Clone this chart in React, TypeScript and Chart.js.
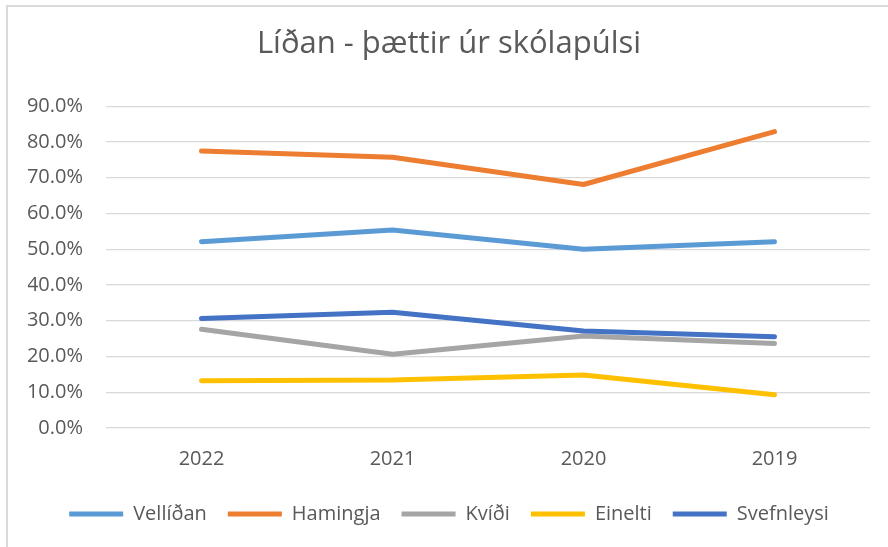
import React, { useEffect, useRef } from "react";
import { Chart, registerables } from "chart.js";

Chart.register(...registerables);

const titleText = "Líðan - þættir úr skólapúlsi";
const categories = ["2022", "2021", "2020", "2019"];
const seriesNames = ["Vellíðan", "Hamingja", "Kvíði", "Einelti", "Svefnleysi"];
const vellidan = [0.521, 0.554, 0.5, 0.521];
const hamingja = [0.775, 0.757, 0.681, 0.829];
const kvidi = [0.276, 0.206, 0.257, 0.236];
const einelti = [0.132, 0.134, 0.148, 0.093];
const svefnleysi = [0.306, 0.324, 0.271, 0.255];
const seriesColors = ["#5B9BD5", "#ED7D31", "#A5A5A5", "#FFC000", "#4472C4"];
const yMin = 0;
const yMax = 0.9;
const yStep = 0.1;

const FONT = "'Open Sans', sans-serif";
const TEXT = "#595959";

export default function App() {
  const ref = useRef<HTMLCanvasElement | null>(null);

  useEffect(() => {
    if (!ref.current) return;
    const values = [vellidan, hamingja, kvidi, einelti, svefnleysi];
    const chart = new Chart(ref.current, {
      type: "line",
      data: {
        labels: categories,
        datasets: seriesNames.map((name, i) => ({
          label: name,
          data: values[i],
          borderColor: seriesColors[i],
          backgroundColor: seriesColors[i],
          borderWidth: 5,
          borderCapStyle: "round",
          borderJoinStyle: "round",
          pointRadius: 0,
          pointHoverRadius: 0,
          tension: 0,
          fill: false,
          order: seriesNames.length - i,
        })),
      },
      options: {
        responsive: false,
        animation: false,
        events: [],
        layout: { padding: { left: 28, right: 18, top: 0, bottom: 13 } },
        plugins: {
          tooltip: { enabled: false },
          title: {
            display: true,
            text: titleText,
            color: TEXT,
            font: { family: FONT, size: 31, weight: "normal" },
            padding: { top: 26, bottom: 43 },
          },
          legend: {
            position: "bottom",
            labels: {
              color: TEXT,
              font: { family: FONT, size: 20 },
              boxWidth: 54,
              boxHeight: 5,
              padding: 21,
              sort: (a: any, b: any) => a.datasetIndex - b.datasetIndex,
              generateLabels: (ch: any) =>
                ch.data.datasets.map((ds: any, i: number) => ({
                  text: ds.label,
                  fillStyle: ds.borderColor,
                  strokeStyle: ds.borderColor,
                  lineWidth: 0,
                  hidden: false,
                  datasetIndex: i,
                  fontColor: TEXT,
                })),
            },
          },
        },
        scales: {
          x: {
            offset: true,
            grid: { display: false, drawTicks: false },
            border: { display: false },
            ticks: {
              color: TEXT,
              font: { family: FONT, size: 20 },
              padding: 19,
              maxRotation: 0,
            },
            afterFit: (s: any) => {
              s.height = 55;
            },
          },
          y: {
            min: yMin,
            max: yMax,
            grid: { color: "#D9D9D9", lineWidth: 1.3, drawTicks: false },
            border: { display: false },
            ticks: {
              stepSize: yStep,
              color: TEXT,
              font: { family: FONT, size: 20 },
              padding: 23,
              callback: (v: any) => (Number(v) * 100).toFixed(1) + "%",
            },
            afterFit: (s: any) => {
              s.width = 78;
            },
          },
        },
      },
    });
    return () => chart.destroy();
  }, []);

  return (
    <div
      style={{
        position: "fixed",
        left: 0,
        top: 0,
        width: 888,
        height: 547,
        background: "#fff",
        overflow: "hidden",
      }}
    >
      <div
        style={{
          position: "absolute",
          left: 6,
          top: 5,
          width: 920,
          height: 580,
          border: "2px solid #D9D9D9",
          boxSizing: "border-box",
        }}
      />
      <canvas
        ref={ref}
        width={888}
        height={547}
        style={{ position: "absolute", left: 0, top: 0, width: 888, height: 547 }}
      />
    </div>
  );
}
